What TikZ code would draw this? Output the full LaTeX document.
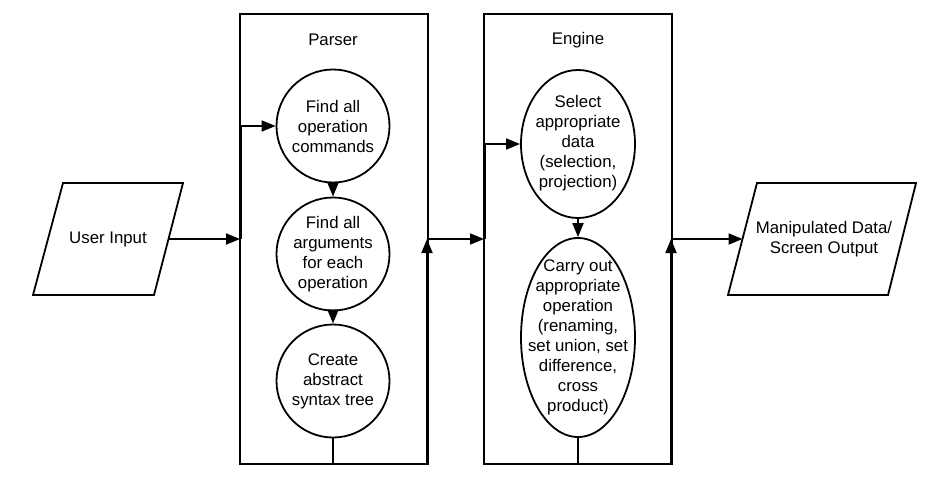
\documentclass[tikz,border=0pt]{standalone}
\usepackage{fontspec}
\setmainfont{Liberation Sans}
\usetikzlibrary{arrows.meta,shapes.geometric,calc}
\begin{document}
\begin{tikzpicture}[x=1pt,y=-1pt,line width=1.8pt,
  every node/.style={font=\fontsize{16.8}{20}\selectfont},
  lane/.style={draw,rectangle,minimum width=188,minimum height=450,inner sep=0,outer sep=0},
  stepcirc/.style={draw,circle,minimum size=113,inner sep=0},
  stepell/.style={draw,ellipse,minimum width=114,inner sep=0},
  txt/.style={align=center,inner sep=0},
  conn/.style={-{Triangle[length=14pt,width=11pt]}}]
\useasboundingbox (0,0) rectangle (926,487);
% lanes
\node[lane] (parser) at (334,239) {};
\node[lane] (engine) at (578,239) {};
\node[txt] (parsertitle) at (333,40) {Parser};
\node[txt] (enginetitle) at (578,40) {Engine};
% input / output parallelograms
\draw (63,183) -- (183,183) -- (154,295) -- (33,295) -- cycle;
\node[txt] (ui) at (108,239) {User Input};
\coordinate (ui-e) at (168.5,239);
\draw (757,183) -- (916,183) -- (888,295) -- (728,295) -- cycle;
\node[txt] (mo) at (824,239) {Manipulated Data/\\Screen Output};
\coordinate (mo-w) at (742.5,239);
% parser steps
\node[stepcirc] (c1) at (333,126) {};
\node[txt] (c1t) at (c1) {Find all\\operation\\commands};
\node[stepcirc] (c2) at (333,254) {};
\node[txt] (c2t) at (c2) {Find all\\arguments\\for each\\operation};
\node[stepcirc] (c3) at (333,381) {};
\node[txt] (c3t) at (c3) {Create\\abstract\\syntax tree};
% engine steps
\node[stepell,minimum height=148] (e1) at (578,144) {};
\node[txt] (e1t) at (578,143) {Select\\appropriate\\data\\(selection,\\projection)};
\node[stepell,minimum height=199] (e2) at (578,337.5) {};
\node[txt] (e2t) at (578,337) {Carry out\\appropriate\\operation\\(renaming,\\set union, set\\difference,\\cross\\product)};
% connectors
\draw[conn] (ui-e) -- (parser.west);
\draw[conn] ([xshift=1pt]parser.west) |- (c1.west);
\draw[conn] (c1.south) -- (c2.north);
\draw[conn] (c2.south) -- (c3.north);
\draw[conn] (c3.south) -- (c3.south |- parser.south) -| ([xshift=-1pt]parser.east);
\draw[conn] (parser.east) -- (engine.west);
\draw[conn] ([xshift=1pt]engine.west) |- (e1.west);
\draw[conn] (e1.south) -- (e2.north);
\draw[conn] (e2.south) -- (e2.south |- engine.south) -| ([xshift=-1pt]engine.east);
\draw[conn] (engine.east) -- (mo-w);
\end{tikzpicture}
\end{document}
